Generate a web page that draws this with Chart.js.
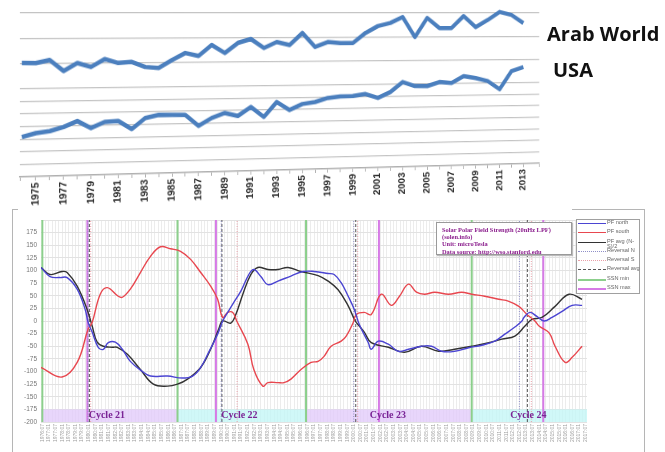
<!DOCTYPE html>
<html><head><meta charset="utf-8">
<script src="https://cdn.jsdelivr.net/npm/chart.js@4.4.0/dist/chart.umd.min.js"></script>
<style>
html,body{margin:0;padding:0;background:#fff;}
body{width:665px;height:452px;position:relative;overflow:hidden;font-family:"Liberation Sans",Arial,sans-serif;}
#frame{position:absolute;left:12px;top:209px;width:633px;height:260px;border-left:1px solid #b5b5b5;border-right:1px solid #b5b5b5;box-sizing:border-box;}
.topline{position:absolute;height:0;border-top:1px solid #b5b5b5;top:209px;}
#solarWrap{position:absolute;left:13px;top:210px;width:631px;height:242px;}
#topWrap{position:absolute;left:18px;top:7px;width:620px;height:210px;transform-origin:0px 6px;transform:perspective(2260px) rotateY(20deg);background:#fff;}
.serieslabel{position:absolute;font-family:"Open Sans",sans-serif;font-weight:700;font-size:20px;line-height:20px;color:#111;white-space:nowrap;}
#info{position:absolute;left:436px;top:222px;width:136px;height:33px;background:#fff;border:1px solid #9a9a9a;box-shadow:1px 1px 1px #bbb;padding:3px 0 0 5px;box-sizing:border-box;font-family:"Liberation Serif",serif;font-weight:700;font-size:6.4px;line-height:7.2px;color:#8a1c8c;white-space:nowrap;}
#legend{position:absolute;left:576px;top:219px;width:64px;height:75px;background:#fff;border:1px solid #a0a0a0;box-sizing:border-box;padding-top:0px;}
#legend .row{position:relative;height:9.3px;}
#legend .sw{position:absolute;left:1px;top:3px;width:28px;height:0;}
#legend .tx{position:absolute;left:30px;top:0px;width:33px;font-size:5.6px;line-height:5.6px;color:#666;}
</style></head>
<body>
<div id="frame"></div>
<div class="topline" style="left:12px;width:8px;"></div>
<div class="topline" style="left:572px;width:73px;"></div>
<div id="solarWrap"><canvas id="solar" width="631" height="242"></canvas></div>
<div id="info">Solar Polar Field Strength (20nHz LPF)<br>(solen.info)<br>Unit: microTesla<br>Data source: http://wso.stanford.edu</div>
<div id="legend"></div>
<div id="topWrap"><canvas id="trend" width="620" height="210"></canvas></div>
<div class="serieslabel" style="left:547px;top:24px;">Arab World</div>
<div class="serieslabel" style="left:553px;top:60px;">USA</div>
<script>
// ---------- Top chart data ----------
const trendYears = [1974,1975,1976,1977,1978,1979,1980,1981,1982,1983,1984,1985,1986,1987,1988,1989,1990,1991,1992,1993,1994,1995,1996,1997,1998,1999,2000,2001,2002,2003,2004,2005,2006,2007,2008,2009,2010,2011,2012,2013];
const arabWorld = [9.03,9.02,9.25,8.37,9.00,8.67,9.30,8.97,9.05,8.63,8.54,9.18,9.74,9.49,10.38,9.72,10.54,10.86,10.11,10.60,10.35,11.34,10.17,10.58,10.49,10.48,11.32,11.90,12.16,12.66,10.96,12.58,11.72,11.72,12.74,11.80,12.40,13.09,12.83,12.13];
const usa = [3.16,3.45,3.59,3.89,4.35,3.77,4.24,4.30,3.63,4.50,4.73,4.71,4.69,3.78,4.41,4.80,4.54,5.26,4.42,5.64,4.96,5.44,5.59,5.91,6.02,6.04,6.20,5.85,6.33,7.17,6.81,6.80,7.13,7.03,7.61,7.43,7.16,6.45,8.00,8.33];
const trendTickYears = [1975,1977,1979,1981,1983,1985,1987,1989,1991,1993,1995,1997,1999,2001,2003,2005,2007,2009,2011,2013];
const hiddenGridLevels = [0,8,10,12];

// ---------- Bottom chart data ----------
const northYears = [1976.40,1977.08,1977.84,1978.37,1979.13,1979.73,1979.96,1980.26,1980.72,1981.10,1981.48,1982.01,1982.54,1983.14,1984.05,1984.66,1985.95,1987.08,1987.84,1988.45,1989.05,1989.73,1990.11,1990.49,1990.95,1991.48,1992.08,1992.46,1992.99,1993.52,1994.28,1995.26,1996.17,1997.01,1998.07,1998.52,1999.05,1999.58,2000.04,2000.42,2001.10,2001.32,2001.85,2002.61,2003.37,2004.13,2005.11,2005.87,2006.63,2007.61,2008.67,2009.66,2010.64,2011.40,2012.16,2012.69,2012.84,2013.29,2013.82,2014.35,2014.96,2015.72,2016.48,2017.23];
const northField = [106,88,86,86,63,23,-3,-22,-52,-56,-43,-42,-56,-80,-100,-109,-109,-113,-109,-92,-62,-26,0,17,37,59,92,102,88,72,79,89,98,98,94,92,76,49,23,-7,-43,-56,-40,-46,-60,-56,-50,-50,-60,-60,-53,-48,-40,-26,-12,0,7,17,9,0,7,19,31,31];
const southYears = [1976.40,1977.99,1979.13,1979.96,1980.26,1980.87,1981.40,1982.23,1982.54,1983.14,1983.90,1984.66,1985.42,1986.17,1986.93,1987.69,1988.45,1989.20,1989.73,1990.11,1990.49,1990.87,1991.17,1992.01,1992.46,1993.14,1993.52,1994.28,1994.73,1995.26,1996.02,1996.78,1997.31,1997.76,1998.29,1999.05,1999.43,1999.96,2000.19,2000.79,2001.32,2002.08,2002.84,2003.45,2004.13,2004.73,2005.34,2006.10,2007.16,2008.14,2008.90,2009.88,2010.95,2011.70,2012.46,2013.07,2013.67,2013.98,2014.73,2015.19,2015.95,2016.48,2017.23];
const southField = [-92,-111,-82,-16,-3,53,66,49,47,63,96,128,147,143,138,122,96,69,43,7,17,17,0,-46,-96,-129,-122,-122,-122,-115,-96,-82,-80,-70,-50,-40,-30,-3,13,17,13,53,31,49,73,57,53,57,53,57,53,49,43,39,29,13,0,-10,-23,-50,-82,-72,-50];
const avgYears = [1976.40,1977.08,1977.99,1978.37,1979.13,1979.88,1980.26,1980.64,1981.10,1981.78,1982.16,1982.92,1983.90,1984.88,1985.95,1986.70,1987.46,1988.45,1989.20,1989.81,1990.11,1990.72,1991.10,1991.63,1992.23,1992.76,1993.52,1994.28,1995.04,1996.02,1997.31,1998.07,1998.82,1999.58,2000.11,2000.42,2000.79,2001.32,2002.61,2003.82,2005.11,2006.40,2007.61,2008.90,2010.19,2011.17,2012.16,2012.92,2013.45,2014.20,2015.19,2016.25,2017.23];
const avgField = [106,92,98,96,69,23,-10,-42,-50,-52,-52,-66,-96,-125,-129,-125,-115,-92,-56,-16,0,-4,13,53,92,106,102,102,106,98,90,79,62,30,0,-10,-22,-43,-52,-62,-50,-60,-56,-50,-43,-36,-30,-10,3,7,29,53,43];
const reversalNYears = [1979.95,1990.0,2000.0,2012.5];
const reversalSYears = [1980.15,1991.2,2000.3,2013.4];
const reversalAvgYears = [1980.05,1990.05,2000.15,2013.1];
const ssnMinYears = [1976.5,1986.7,1996.4,2008.9];
const ssnMaxYears = [1979.9,1989.6,2001.9,2014.3];
const cycleNames = ['Cycle 21','Cycle 22','Cycle 23','Cycle 24'];
const cycleStartYears = [1976.4,1986.7,1996.4,2008.9];
const cycleEndYears = [1986.7,1996.4,2008.9,2017.6];
const cycleLabelYears = [1980.0,1990.0,2001.2,2011.8];
const fieldTicks = [-200,-175,-150,-125,-100,-75,-50,-25,0,25,50,75,100,125,150,175];

// ---------- Top chart ----------
function toPoints(xs, ys){ return xs.map((x,i)=>({x:x, y:ys[i]})); }

new Chart(document.getElementById('trend'), {
  type:'line',
  data:{datasets:[
    {label:'Arab World', data:toPoints(trendYears, arabWorld), borderColor:'#4b7fbe', borderWidth:4.5, pointRadius:0, tension:0, clip:false, borderJoinStyle:'round'},
    {label:'USA', data:toPoints(trendYears, usa), borderColor:'#4b7fbe', borderWidth:4.5, pointRadius:0, tension:0, clip:false, borderJoinStyle:'round'}
  ]},
  options:{
    responsive:false, animation:false, devicePixelRatio:1,
    layout:{padding:{top:6,left:0,right:6,bottom:0}},
    plugins:{legend:{display:false}, tooltip:{enabled:false}},
    scales:{
      x:{type:'linear', min:1973.86, max:2014.34,
        afterFit:(s)=>{s.height=40;},
        border:{display:true, color:'#b0b0b0', width:1.5},
        grid:{drawOnChartArea:false, drawTicks:true, tickLength:4, color:'#b0b0b0'},
        ticks:{stepSize:1, autoSkip:false, maxRotation:90, minRotation:90, padding:2, color:'#2a2a2a',
          font:{family:'Liberation Sans', size:10.5, weight:'bold'},
          callback:(v)=> trendTickYears.includes(v) ? String(v) : ''}
      },
      y:{min:0, max:13,
        afterFit:(s)=>{s.width=0;},
        border:{display:false},
        grid:{drawTicks:false, lineWidth:1.3, color:(c)=> hiddenGridLevels.includes(c.tick.value) ? 'rgba(0,0,0,0)' : '#c4c4c4'},
        ticks:{display:false, stepSize:1}
      }
    }
  }
});

// ---------- Bottom chart ----------
function verticalSegments(xs){ const pts=[]; xs.forEach(v=>{pts.push({x:v,y:-200},{x:v,y:200},{x:v,y:null});}); return pts; }

const cycleBands = {
  id:'cycleBands',
  beforeDatasetsDraw(chart){
    const {ctx, scales:{x, y}} = chart;
    ctx.save();
    cycleStartYears.forEach((s,i)=>{
      const x0 = x.getPixelForValue(s), x1 = x.getPixelForValue(cycleEndYears[i]);
      const y0 = y.getPixelForValue(-175), y1 = y.getPixelForValue(-200);
      ctx.fillStyle = i % 2 ? 'rgba(196,246,246,0.8)' : 'rgba(226,204,250,0.8)';
      ctx.fillRect(x0, y0, x1-x0, y1-y0);
    });
    ctx.restore();
  },
  afterDatasetsDraw(chart){
    const {ctx, scales:{x, y}} = chart;
    ctx.save();
    ctx.font = 'bold 10px "Liberation Serif"';
    ctx.fillStyle = '#7a2496';
    ctx.textBaseline = 'middle';
    cycleNames.forEach((n,i)=>{
      ctx.fillText(n, x.getPixelForValue(cycleLabelYears[i]), y.getPixelForValue(-186));
    });
    ctx.restore();
  }
};

const solarChart = new Chart(document.getElementById('solar'), {
  type:'line',
  data:{datasets:[
    {label:'PF north', data:toPoints(northYears, northField), borderColor:'#4b45d2', borderWidth:1.4, pointRadius:0, tension:0.4},
    {label:'PF south', data:toPoints(southYears, southField), borderColor:'#e8474f', borderWidth:1.4, pointRadius:0, tension:0.4},
    {label:'PF avg (N-S)/2', data:toPoints(avgYears, avgField), borderColor:'#333333', borderWidth:1.4, pointRadius:0, tension:0.4},
    {label:'Reversal N', data:verticalSegments(reversalNYears), borderColor:'#8f8fc8', borderWidth:1, borderDash:[1,1.5], pointRadius:0},
    {label:'Reversal S', data:verticalSegments(reversalSYears), borderColor:'#e9a0a8', borderWidth:1, borderDash:[1,1.5], pointRadius:0},
    {label:'Reversal avg', data:verticalSegments(reversalAvgYears), borderColor:'#555555', borderWidth:1, borderDash:[3,2], pointRadius:0},
    {label:'SSN min', data:verticalSegments(ssnMinYears), borderColor:'#8ccf8c', borderWidth:2, pointRadius:0},
    {label:'SSN max', data:verticalSegments(ssnMaxYears), borderColor:'#d67ae6', borderWidth:2, pointRadius:0}
  ]},
  options:{
    responsive:false, animation:false, devicePixelRatio:1,
    layout:{padding:{top:10,left:0,right:57,bottom:0}},
    plugins:{legend:{display:false}, tooltip:{enabled:false}},
    scales:{
      x:{type:'linear', min:1976.4, max:2017.6,
        afterFit:(s)=>{s.height=30;},
        border:{display:false},
        grid:{color:'#ececec', lineWidth:1, drawTicks:false},
        ticks:{stepSize:0.25, maxTicksLimit:1000, includeBounds:false, autoSkip:false, maxRotation:90, minRotation:90, padding:2,
          color:'#a0a0a0', font:{family:'Liberation Sans', size:5},
          callback:(v)=>{ const q = Math.round((v - Math.floor(v))*4); if (q % 2) return ''; const m = q===0 ? '01' : '07'; return Math.floor(v) + ':' + m; }}
      },
      y:{min:-200, max:200,
        afterFit:(s)=>{s.width=28;},
        border:{display:false},
        grid:{color:'#e2e2e2', lineWidth:1, drawTicks:false},
        ticks:{stepSize:25, padding:4, color:'#777', font:{family:'Liberation Sans', size:6.5},
          callback:(v)=> fieldTicks.includes(v) ? String(v) : ''}
      }
    }
  },
  plugins:[cycleBands]
});

// HTML legend built from the chart's datasets
const legendBox = document.getElementById('legend');
solarChart.data.datasets.forEach(ds=>{
  const row = document.createElement('div'); row.className='row';
  const sw = document.createElement('span'); sw.className='sw';
  const style = ds.borderDash ? (ds.borderDash[0] <= 1 ? 'dotted' : 'dashed') : 'solid';
  sw.style.borderTop = Math.max(1, ds.borderWidth) + 'px ' + style + ' ' + ds.borderColor;
  const tx = document.createElement('span'); tx.className='tx'; tx.textContent = ds.label;
  row.appendChild(sw); row.appendChild(tx); legendBox.appendChild(row);
});
</script>
</body></html>
